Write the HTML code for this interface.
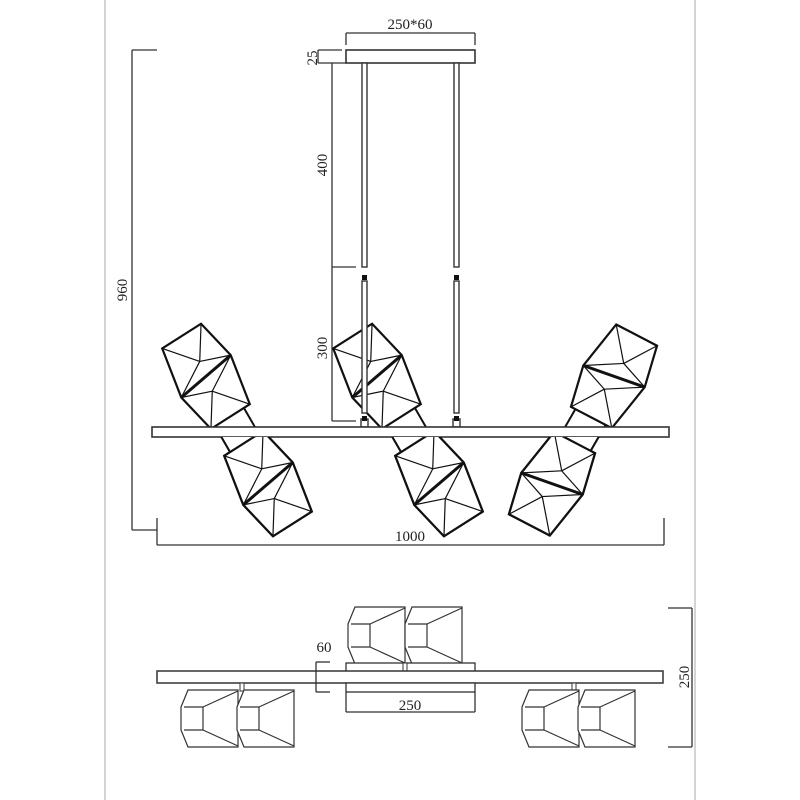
<!DOCTYPE html>
<html><head><meta charset="utf-8"><style>
html,body{margin:0;padding:0;background:#fff;}
svg{display:block;}
text{font-family:"Liberation Serif",serif;font-size:15px;fill:#222;}
</style></head><body>
<svg width="800" height="800" viewBox="0 0 800 800" xmlns="http://www.w3.org/2000/svg">
<defs>
<g id="gem" fill="none" stroke="#111">
  <polygon points="-24,-46 22,-48 32,-6 24,46 -22,48 -32,6" stroke-width="2.2" fill="#fff"/>
  <line x1="-32" y1="6" x2="32" y2="-6" stroke-width="3"/>
  <line x1="-24" y1="-46" x2="2" y2="-16" stroke-width="1.2"/>
  <line x1="22" y1="-48" x2="2" y2="-16" stroke-width="1.2"/>
  <line x1="-32" y1="6" x2="2" y2="-16" stroke-width="1.2"/>
  <line x1="32" y1="-6" x2="2" y2="-16" stroke-width="1.2"/>
  <line x1="24" y1="46" x2="-2" y2="16" stroke-width="1.2"/>
  <line x1="-22" y1="48" x2="-2" y2="16" stroke-width="1.2"/>
  <line x1="-32" y1="6" x2="-2" y2="16" stroke-width="1.2"/>
  <line x1="32" y1="-6" x2="-2" y2="16" stroke-width="1.2"/>
</g>
<g id="pend">
  <rect x="-17" y="-16" width="34" height="32" fill="#fff" stroke="#111" stroke-width="2"/>
  <use href="#gem" transform="translate(0,-62)"/>
  <use href="#gem" transform="translate(0,62) rotate(180)"/>
</g>
<g id="side" fill="#fff" stroke="#333" stroke-width="1.2">
  <path d="M7,0 L57,0 L57,57 L7,57 L0,40 L0,17 Z"/>
  <path d="M3,17 L22,17 L22,40 L3,40 M22,17 L57,1 M22,40 L57,56" fill="none"/>
</g>
</defs>

<line x1="105" y1="0" x2="105" y2="800" stroke="#aaa" stroke-width="1"/>
<line x1="695" y1="0" x2="695" y2="800" stroke="#aaa" stroke-width="1"/>

<g stroke="#333" fill="none" stroke-width="1.3">
  <line x1="132" y1="50" x2="132" y2="530"/>
  <line x1="132" y1="50" x2="157" y2="50"/>
  <line x1="132" y1="530" x2="157" y2="530"/>
  <line x1="157" y1="545" x2="664" y2="545"/>
  <line x1="157" y1="518" x2="157" y2="545"/>
  <line x1="664" y1="518" x2="664" y2="545"/>
  <line x1="346" y1="33" x2="475" y2="33"/>
  <line x1="346" y1="33" x2="346" y2="45"/>
  <line x1="475" y1="33" x2="475" y2="45"/>
  <line x1="318" y1="50" x2="342" y2="50"/>
  <line x1="318" y1="63" x2="346" y2="63"/>
  <line x1="318" y1="50" x2="318" y2="63"/>
  <line x1="332" y1="63" x2="332" y2="421"/>
  <line x1="332" y1="267" x2="356" y2="267"/>
  <line x1="332" y1="421" x2="356" y2="421"/>
</g>
<text x="410" y="29" text-anchor="middle">250*60</text>
<text transform="translate(317,58) rotate(-90)" text-anchor="middle">25</text>
<text transform="translate(327,165) rotate(-90)" text-anchor="middle">400</text>
<text transform="translate(327,348) rotate(-90)" text-anchor="middle">300</text>
<text transform="translate(127,290) rotate(-90)" text-anchor="middle">960</text>
<text x="410" y="541" text-anchor="middle">1000</text>

<use href="#pend" transform="translate(237,430) rotate(-30)"/>
<use href="#pend" transform="translate(583,430) rotate(30)"/>
<use href="#pend" transform="translate(408,430) rotate(-30)"/>

<rect x="346" y="50" width="129" height="13" fill="#fff" stroke="#333" stroke-width="1.6"/>
<g fill="#fff" stroke="#333" stroke-width="1.4">
  <rect x="362" y="63" width="5" height="204"/>
  <rect x="454" y="63" width="5" height="204"/>
  <rect x="362" y="281" width="5" height="132"/>
  <rect x="454" y="281" width="5" height="132"/>
  <rect x="361" y="419" width="7" height="8"/>
  <rect x="453" y="419" width="7" height="8"/>
</g>
<g fill="#111">
  <rect x="362" y="275" width="5" height="5"/>
  <rect x="454" y="275" width="5" height="5"/>
  <rect x="362" y="416" width="5" height="5"/>
  <rect x="454" y="416" width="5" height="5"/>
</g>
<rect x="152" y="427" width="517" height="10" fill="#fff" stroke="#333" stroke-width="1.6"/>
<clipPath id="cb"><rect x="0" y="437" width="800" height="200"/></clipPath>
<g clip-path="url(#cb)">
  <use href="#pend" transform="translate(237,430) rotate(-30)"/>
  <use href="#pend" transform="translate(583,430) rotate(30)"/>
  <use href="#pend" transform="translate(408,430) rotate(-30)"/>
</g>

<use href="#side" transform="translate(348,607)"/>
<use href="#side" transform="translate(405,607)"/>
<rect x="346" y="663" width="129" height="9" fill="#fff" stroke="#333" stroke-width="1.3"/>
<rect x="403" y="663" width="4" height="9" fill="#fff" stroke="#333" stroke-width="1"/>
<rect x="157" y="671" width="506" height="12" fill="#fff" stroke="#333" stroke-width="1.5"/>
<rect x="346" y="683" width="129" height="9" fill="#fff" stroke="#333" stroke-width="1.3"/>
<rect x="240" y="683" width="4" height="8" fill="#fff" stroke="#333" stroke-width="1"/>
<rect x="572" y="683" width="4" height="8" fill="#fff" stroke="#333" stroke-width="1"/>
<use href="#side" transform="translate(181,690)"/>
<use href="#side" transform="translate(237,690)"/>
<use href="#side" transform="translate(522,690)"/>
<use href="#side" transform="translate(578,690)"/>

<g stroke="#333" fill="none" stroke-width="1.3">
  <line x1="316" y1="662" x2="330" y2="662"/>
  <line x1="316" y1="692" x2="330" y2="692"/>
  <line x1="316" y1="662" x2="316" y2="692"/>
  <line x1="346" y1="712" x2="475" y2="712"/>
  <line x1="346" y1="692" x2="346" y2="712"/>
  <line x1="475" y1="692" x2="475" y2="712"/>
  <line x1="668" y1="608" x2="692" y2="608"/>
  <line x1="668" y1="747" x2="692" y2="747"/>
  <line x1="692" y1="608" x2="692" y2="747"/>
</g>
<text x="324" y="652" text-anchor="middle">60</text>
<text x="410" y="710" text-anchor="middle">250</text>
<text transform="translate(689,677) rotate(-90)" text-anchor="middle">250</text>
</svg>
</body></html>
